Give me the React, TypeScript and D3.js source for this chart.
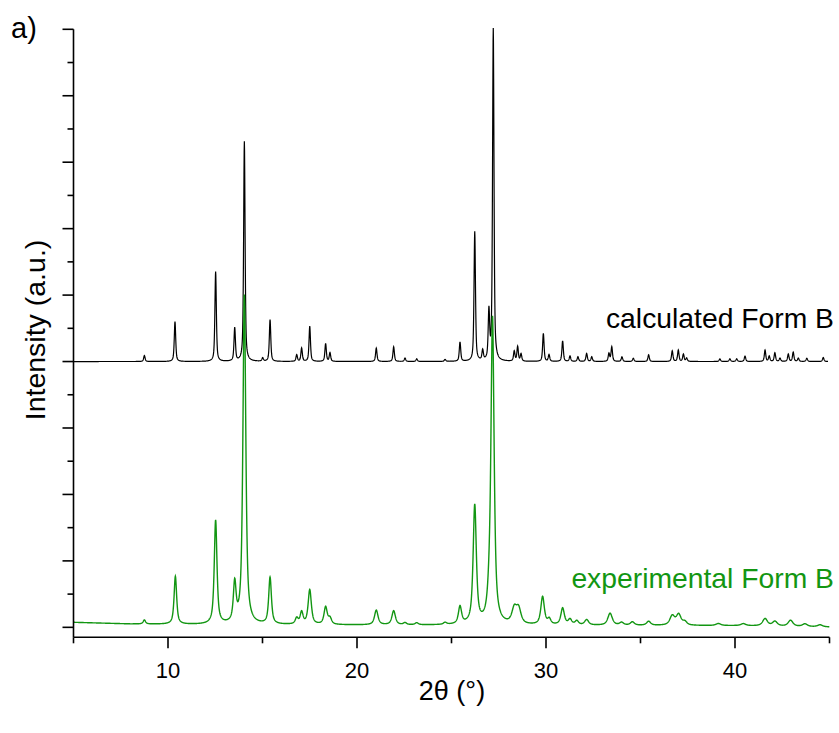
import React from "react";
import * as d3 from "d3";

// ---- data ----
// calculated pattern (offset baseline = 4 units), peak positions (°2θ) and heights (units above baseline)
const calcPos = [8.75, 10.37, 12.52, 13.53, 14.04, 15.01, 15.40, 16.81, 17.07, 17.50, 18.34, 18.57, 21.02, 21.94, 22.54, 23.16, 24.66, 25.45, 26.23, 26.65, 26.98, 27.21, 28.32, 28.50, 28.68, 29.86, 30.16, 30.88, 31.27, 31.69, 32.15, 32.42, 33.33, 33.48, 34.02, 34.62, 35.43, 36.68, 37.00, 37.27, 37.44, 39.20, 39.73, 40.09, 40.53, 41.59, 41.81, 42.11, 42.38, 42.82, 43.08, 43.35, 43.80, 44.67];
const calcInt = [0.09, 0.6, 1.35, 0.5, 3.31, 0.05, 0.63, 0.1, 0.2, 0.53, 0.27, 0.13, 0.2, 0.22, 0.05, 0.04, 0.03, 0.29, 1.95, 0.15, 0.72, 5.0, 0.15, 0.22, 0.11, 0.42, 0.1, 0.31, 0.08, 0.07, 0.12, 0.07, 0.12, 0.22, 0.07, 0.05, 0.1, 0.16, 0.17, 0.11, 0.05, 0.04, 0.04, 0.04, 0.08, 0.17, 0.08, 0.13, 0.05, 0.11, 0.14, 0.05, 0.05, 0.06];
const calcBaseline = 4;
const calcFwhm = 0.09;

// experimental pattern
const expPos = [8.75, 10.39, 12.52, 13.53, 14.04, 15.40, 16.81, 17.07, 17.50, 18.34, 18.57, 21.02, 21.94, 22.54, 23.16, 24.66, 25.45, 26.23, 26.98, 27.17, 28.32, 28.55, 29.82, 30.17, 30.88, 31.27, 31.63, 32.15, 33.39, 34.00, 34.57, 35.43, 36.68, 37.02, 37.35, 39.12, 40.44, 41.59, 42.11, 42.94, 43.70, 44.50];
const expInt = [0.06, 0.72, 1.56, 0.58, 4.95, 0.7, 0.09, 0.18, 0.52, 0.26, 0.09, 0.22, 0.21, 0.03, 0.03, 0.03, 0.26, 1.78, 0.2, 4.6, 0.22, 0.22, 0.42, 0.08, 0.25, 0.08, 0.06, 0.08, 0.18, 0.04, 0.05, 0.06, 0.14, 0.16, 0.05, 0.03, 0.03, 0.11, 0.07, 0.09, 0.04, 0.03];
const expFwhm = [0.15, 0.16, 0.17, 0.17, 0.18, 0.17, 0.18, 0.18, 0.2, 0.2, 0.2, 0.22, 0.22, 0.2, 0.2, 0.2, 0.2, 0.2, 0.2, 0.2, 0.3, 0.3, 0.22, 0.2, 0.22, 0.22, 0.22, 0.25, 0.28, 0.25, 0.25, 0.25, 0.3, 0.3, 0.25, 0.3, 0.3, 0.3, 0.3, 0.3, 0.3, 0.3];
const expBgPos = [5, 8, 12, 20, 30, 40, 45];
const expBgVal = [0.075, 0.05, 0.04, 0.035, 0.03, 0.025, 0.005];

const xMajorTicks = [10, 20, 30, 40];
const xMinorTicks = [5, 15, 25, 35, 45];
const yMajorTicks = [0, 1, 2, 3, 4, 5, 6, 7, 8, 9];
const yMinorTicks = [0.5, 1.5, 2.5, 3.5, 4.5, 5.5, 6.5, 7.5, 8.5];

const GREEN = "#129612";
const FONT = "'Liberation Sans', Arial, sans-serif";

function pv(x: number, c: number, h: number, w: number, eta: number) {
  const t = (x - c) / (w / 2);
  const t2 = t * t;
  return h * (eta / (1 + t2) + (1 - eta) * Math.exp(-Math.LN2 * t2));
}

export default function App() {
  const W = 839, H = 733;
  const x = d3.scaleLinear().domain([5, 45]).range([73.5, 829.5]);
  const y = d3.scaleLinear().domain([-0.15, 9]).range([637.3, 29.3]);
  const bg = d3.scaleLinear().domain(expBgPos).range(expBgVal);

  const grid = d3.range(5, 44.93, 0.01);
  const calcData: [number, number][] = grid.map((t) => {
    let s = calcBaseline;
    for (let i = 0; i < calcPos.length; i++) s += pv(t, calcPos[i], calcInt[i], calcFwhm, 0.6);
    return [t, s];
  });
  const grid2 = d3.range(5, 45.0, 0.01);
  const expData: [number, number][] = grid2.map((t) => {
    let s = bg(t);
    for (let i = 0; i < expPos.length; i++) s += pv(t, expPos[i], expInt[i], expFwhm[i], 0.75);
    return [t, s];
  });

  const line = d3.line<[number, number]>().x((d) => x(d[0])).y((d) => y(d[1]));
  const x0 = x(5), yAxisY = y(-0.15);

  return (
    <svg width={W} height={H} style={{ position: "absolute", left: 0, top: 0, background: "#fff" }} fontFamily={FONT}>
      <path d={line(calcData) || ""} fill="none" stroke="#000" strokeWidth={1.2} />
      <path d={line(expData) || ""} fill="none" stroke={GREEN} strokeWidth={1.4} />

      {/* y axis */}
      <line x1={x0} x2={x0} y1={y(9)} y2={yAxisY} stroke="#000" strokeWidth={1.6} />
      {yMajorTicks.map((v) => (
        <line key={"ym" + v} x1={x0 - 11} x2={x0} y1={y(v)} y2={y(v)} stroke="#000" strokeWidth={1.6} />
      ))}
      {yMinorTicks.map((v) => (
        <line key={"yn" + v} x1={x0 - 6} x2={x0} y1={y(v)} y2={y(v)} stroke="#000" strokeWidth={1.6} />
      ))}

      {/* x axis */}
      <line x1={x0} x2={x(45)} y1={yAxisY} y2={yAxisY} stroke="#000" strokeWidth={1.6} />
      {xMajorTicks.map((v) => (
        <line key={"xm" + v} x1={x(v)} x2={x(v)} y1={yAxisY} y2={yAxisY + 11} stroke="#000" strokeWidth={1.6} />
      ))}
      {xMinorTicks.map((v) => (
        <line key={"xn" + v} x1={x(v)} x2={x(v)} y1={yAxisY} y2={yAxisY + 6} stroke="#000" strokeWidth={1.6} />
      ))}
      {xMajorTicks.map((v) => (
        <text key={"xl" + v} x={x(v)} y={678} fontSize={22} textAnchor="middle" fill="#000">{v}</text>
      ))}

      <text x={452} y={700} fontSize={27} textAnchor="middle" fill="#000">2θ (°)</text>
      <text transform="translate(45,330) rotate(-90)" fontSize={28.5} textAnchor="middle" fill="#000">Intensity (a.u.)</text>
      <text x={11} y={38} fontSize={29} fill="#000">a)</text>
      <text x={834} y={328} fontSize={28.3} textAnchor="end" fill="#000">calculated Form B</text>
      <text x={834} y={588} fontSize={28.3} textAnchor="end" fill={GREEN}>experimental Form B</text>
    </svg>
  );
}
